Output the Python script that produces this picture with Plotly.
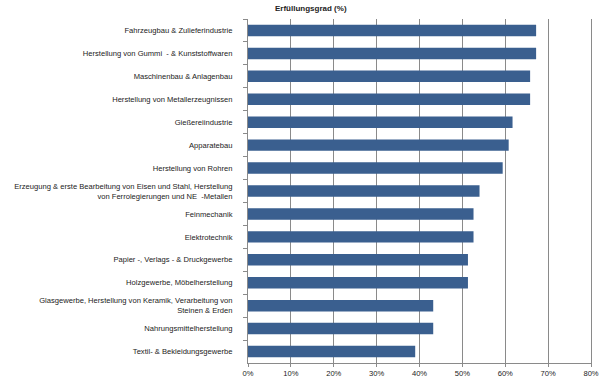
import plotly.graph_objects as go

categories = [
    "Fahrzeugbau & Zulieferindustrie",
    "Herstellung von Gummi  - & Kunststoffwaren",
    "Maschinenbau & Anlagenbau",
    "Herstellung von Metallerzeugnissen",
    "Gießereiindustrie",
    "Apparatebau",
    "Herstellung von Rohren",
    "Erzeugung & erste Bearbeitung von Eisen und Stahl, Herstellung<br>von Ferrolegierungen und NE  -Metallen",
    "Feinmechanik",
    "Elektrotechnik",
    "Papier -, Verlags - & Druckgewerbe",
    "Holzgewerbe, Möbelherstellung",
    "Glasgewerbe, Herstellung von Keramik, Verarbeitung von<br>Steinen & Erden",
    "Nahrungsmittelherstellung",
    "Textil- & Bekleidungsgewerbe",
]
values = [0.672, 0.672, 0.658, 0.658, 0.617, 0.608, 0.594, 0.540, 0.526, 0.526,
          0.513, 0.513, 0.432, 0.432, 0.390]
tick_vals = [0, 0.1, 0.2, 0.3, 0.4, 0.5, 0.6, 0.7, 0.8]
tick_text = ["0%", "10%", "20%", "30%", "40%", "50%", "60%", "70%", "80%"]

font_family = "Liberation Sans, Arial, sans-serif"

fig = go.Figure(go.Bar(
    x=values,
    y=categories,
    orientation="h",
    marker=dict(color="#3A5F8F", line=dict(width=0)),
    width=0.5,
))

fig.update_layout(
    width=607,
    height=385,
    margin=dict(l=248, r=16, t=19, b=22),
    paper_bgcolor="white",
    plot_bgcolor="white",
    showlegend=False,
    font=dict(family=font_family, size=7.6, color="#222222"),
    title=dict(
        text="<b>Erfüllungsgrad (%)</b>",
        xref="container", yref="container",
        x=275 / 607, xanchor="left",
        y=1 - 8 / 385, yanchor="middle",
        font=dict(family=font_family, size=8, color="#222222"),
    ),
    bargap=0.5,
)

fig.update_xaxes(
    range=[0, 0.8],
    tickvals=tick_vals,
    ticktext=tick_text,
    showgrid=True,
    gridcolor="#8a8a8a",
    gridwidth=1,
    zeroline=False,
    showline=True,
    linecolor="#8a8a8a",
    ticks="outside",
    ticklen=3,
    tickcolor="#8a8a8a",
    tickfont=dict(size=7.6),
    fixedrange=True,
    automargin=False,
)

fig.update_yaxes(
    categoryorder="array",
    categoryarray=categories,
    autorange="reversed",
    showline=True,
    mirror=True,
    linecolor="#8a8a8a",
    ticks="outside",
    tickson="boundaries",
    ticklen=4,
    tickcolor="#8a8a8a",
    showgrid=False,
    tickfont=dict(size=7.6),
    ticklabelstandoff=13,
    fixedrange=True,
    automargin=False,
)

fig.write_html(
    "out.html",
    config={"displayModeBar": False},
    post_script="document.body.style.margin='0';",
)
